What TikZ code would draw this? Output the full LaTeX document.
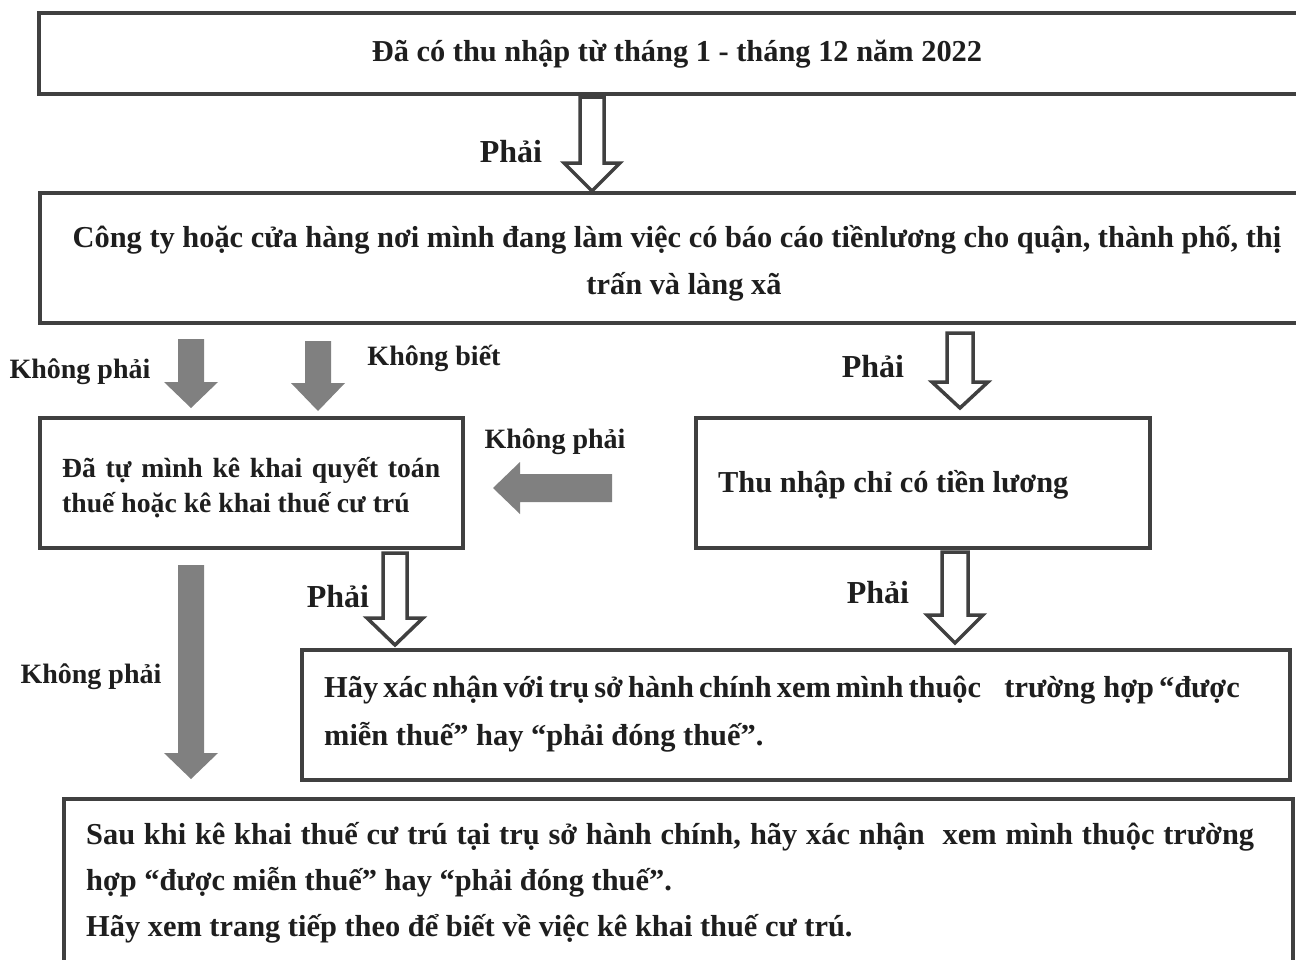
\documentclass[tikz,border=0pt]{standalone}
\usepackage{fontspec}
\setmainfont{Liberation Serif}
\usetikzlibrary{calc}
\definecolor{boxline}{HTML}{404040}
\definecolor{arrowgray}{HTML}{808080}
\definecolor{txt}{HTML}{1E1E1E}
\newcommand{\blockdown}[6]{%
  \path[#1] let \p1=(#2), \p2=(#3) in
    (\x1-#4,\y1) -- (\x1+#4,\y1) -- (\x1+#4,\y2+#6) -- (\x1+#5,\y2+#6) -- (\x1,\y2)
    -- (\x1-#5,\y2+#6) -- (\x1-#4,\y2+#6) -- cycle;}
\newcommand{\blockleft}[6]{%
  \path[#1] let \p1=(#2), \p2=(#3) in
    (\x1,\y1-#4) -- (\x1,\y1+#4) -- (\x2+#6,\y1+#4) -- (\x2+#6,\y1+#5) -- (\x2,\y1)
    -- (\x2+#6,\y1-#5) -- (\x2+#6,\y1-#4) -- cycle;}
\begin{document}
\begin{tikzpicture}[x=1pt,y=-1pt,
  flowbox/.style={draw=boxline,line width=3.5pt,fill=white,inner sep=0pt,outer sep=0pt,anchor=north west},
  boxtext/.style={font=\fontsize{30.4}{36}\selectfont\bfseries,text=txt,inner sep=0pt},
  smalltext/.style={font=\fontsize{27.7}{34}\selectfont\bfseries,text=txt,inner sep=0pt},
  lbl/.style={font=\fontsize{28}{34}\selectfont\bfseries,text=txt,inner sep=0pt,anchor=base},
  yeslbl/.style={font=\fontsize{32}{38}\selectfont\bfseries,text=txt,inner sep=0pt,anchor=base},
  hollow/.style={draw=boxline,line width=3.5pt,fill=white,line join=miter},
  solid/.style={fill=arrowgray}]
\useasboundingbox[fill=white] (0,0) rectangle (1296,959);

% boxes
\node[flowbox,minimum width=1276pt,minimum height=81pt] (box1) at (39,13) {};
\node[flowbox,minimum width=1275pt,minimum height=130pt] (box2) at (40,193) {};
\node[flowbox,minimum width=423pt,minimum height=130pt] (box3) at (40,418) {};
\node[flowbox,minimum width=454pt,minimum height=130pt] (box5) at (696,418) {};
\node[flowbox,minimum width=988pt,minimum height=130pt] (box4) at (302,650) {};
\node[flowbox,minimum width=1229pt,minimum height=190pt] (box6) at (64,799) {};

% box texts
\node[boxtext,anchor=base] (t1) at (677,61) {Đã có thu nhập từ tháng 1 - tháng 12 năm 2022};
\node[boxtext,anchor=base] (t2a) at (677,247) {Công ty hoặc cửa hàng nơi mình đang làm việc có báo cáo tiềnlương cho quận, thành phố, thị};
\node[boxtext,anchor=base] (t2b) at (684,294) {trấn và làng xã};
\node[smalltext,anchor=base west] (t3a) at (62,477) {\makebox[378pt][s]{Đã tự mình kê khai quyết toán}};
\node[smalltext,anchor=base west] (t3b) at (62,512) {thuế hoặc kê khai thuế cư trú};
\node[boxtext,anchor=base west] (t5) at (718,492) {Thu nhập chỉ có tiền lương};
\node[boxtext,anchor=base west] (t4a) at (324,697) {\makebox[904pt][s]{Hãy xác nhận với trụ sở hành chính xem mình thuộc\hspace{0.6em} trường\hspace{0.1em} hợp “được}};
\node[boxtext,anchor=base west] (t4b) at (324,745) {miễn thuế” hay “phải đóng thuế”.};
\node[boxtext,anchor=base west] (t6a) at (86,844) {\makebox[1168pt][s]{Sau khi kê khai thuế cư trú tại trụ sở hành chính, hãy xác nhận\hspace{0.3em} xem mình thuộc trường}};
\node[boxtext,anchor=base west] (t6b) at (86,890) {hợp “được miễn thuế” hay “phải đóng thuế”.};
\node[boxtext,anchor=base west] (t6c) at (86,936) {Hãy xem trang tiếp theo để biết về việc kê khai thuế cư trú.};

% labels
\node[yeslbl] (l1) at (511,162) {Phải};
\node[lbl] (l2) at (80,378) {Không phải};
\node[lbl] (l3) at (434,365) {Không biết};
\node[yeslbl] (l4) at (873,377) {Phải};
\node[lbl] (l5) at (555,448) {Không phải};
\node[yeslbl] (l6) at (338,607) {Phải};
\node[yeslbl] (l7) at (878,603) {Phải};
\node[lbl] (l8) at (91,683) {Không phải};

% arrow end points
\coordinate (h1s) at (592,97);  \coordinate (h1e) at (592,191);
\coordinate (h2s) at (960,333); \coordinate (h2e) at (960,408);
\coordinate (h3s) at (395,553); \coordinate (h3e) at (395,645);
\coordinate (h4s) at (955,552); \coordinate (h4e) at (955,643);
\coordinate (g1s) at (191,339); \coordinate (g1e) at (191,408);
\coordinate (g2s) at (318,341); \coordinate (g2e) at (318,411);
\coordinate (g3s) at (612,488); \coordinate (g3e) at (493,488);
\coordinate (g4s) at (191,565); \coordinate (g4e) at (191,779);

% hollow arrows
\blockdown{hollow}{h1s}{h1e}{12}{28}{28}
\blockdown{hollow}{h2s}{h2e}{13}{28}{26}
\blockdown{hollow}{h3s}{h3e}{12}{28}{27}
\blockdown{hollow}{h4s}{h4e}{13}{28}{28}
% solid arrows
\blockdown{solid}{g1s}{g1e}{13}{27}{26}
\blockdown{solid}{g2s}{g2e}{13}{27}{28}
\blockleft{solid}{g3s}{g3e}{14}{26}{27}
\blockdown{solid}{g4s}{g4e}{13}{27}{26}
\end{tikzpicture}
\end{document}
